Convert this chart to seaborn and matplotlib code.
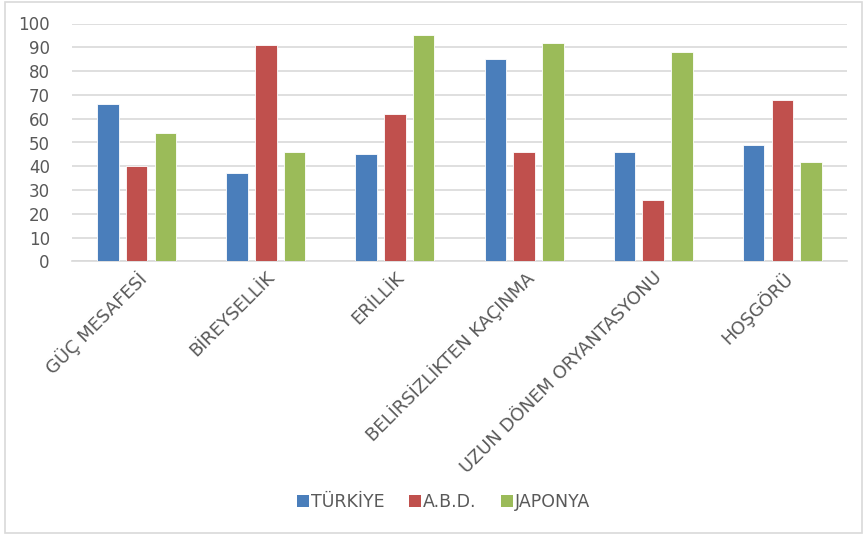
import matplotlib
matplotlib.use("Agg")
import matplotlib.pyplot as plt
import seaborn as sns
import pandas as pd
from matplotlib.patches import Rectangle, Patch

categories = ["GÜÇ MESAFESİ", "BİREYSELLİK", "ERİLLİK", "BELİRSİZLİKTEN KAÇINMA",
              "UZUN DÖNEM ORYANTASYONU", "HOŞGÖRÜ"]
series = ["TÜRKİYE", "A.B.D.", "JAPONYA"]
turkiye = [66, 37, 45, 85, 46, 49]
abd = [40, 91, 62, 46, 26, 68]
japonya = [54, 46, 95, 92, 88, 42]
colors = ["#4A7EBB", "#C0504D", "#9BBB59"]

rows = []
for s, vals in zip(series, [turkiye, abd, japonya]):
    for c, v in zip(categories, vals):
        rows.append({"Kategori": c, "Ülke": s, "Değer": v})
df = pd.DataFrame(rows)

sns.set_theme(style="white")
plt.rcParams['font.family'] = ['DejaVu Sans']

fig = plt.figure(figsize=(8.66, 5.38), dpi=100)
ax = fig.add_axes([72/866, 1-261.5/538, (847-72)/866, (261.5-23.5)/538])

sns.barplot(data=df, x="Kategori", y="Değer", hue="Ülke", order=categories,
            hue_order=series, palette=colors, width=0.667, gap=0.25,
            edgecolor="white", linewidth=0.6, saturation=1, ax=ax, legend=False, zorder=3)

ax.set_ylim(0, 100)
ax.set_xlim(-0.5, 5.5)
ax.set_yticks(range(0, 101, 10))
ax.yaxis.grid(True, color="#D9D9D9", linewidth=1.2, zorder=0)
ax.set_axisbelow(True)
for sp in ["top", "right", "left"]:
    ax.spines[sp].set_visible(False)
ax.spines["bottom"].set_color("#D9D9D9")
ax.spines["bottom"].set_linewidth(1.2)
ax.set_xlabel("")
ax.set_ylabel("")
ax.tick_params(axis="y", length=0, colors="#595959", labelsize=12, pad=16)
ax.tick_params(axis="x", length=0, colors="#595959", labelsize=13, pad=5)
plt.setp(ax.get_xticklabels(), rotation=45, ha="right", rotation_mode="anchor")

handles = [Patch(facecolor=c, edgecolor="none") for c in colors]
fig.legend(handles, series, loc="center", bbox_to_anchor=(0.512, 0.067), ncol=3,
           frameon=False, fontsize=12.5, handlelength=0.7, handleheight=0.7,
           handletextpad=0.1, columnspacing=1.4, labelcolor="#595959")

fig.patches.append(Rectangle((5/866, 1-533/538), 857/866, 531/538, transform=fig.transFigure,
                             fill=False, edgecolor="#D9D9D9", linewidth=1.2))

fig.savefig("out.png", dpi=100)
